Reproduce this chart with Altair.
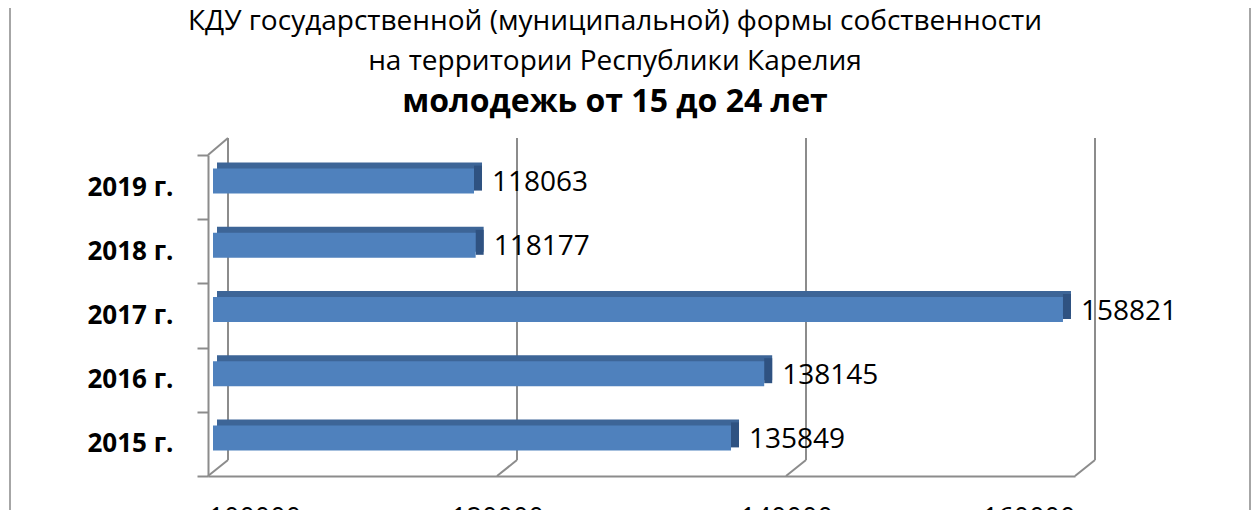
import altair as alt
import pandas as pd

# ---- data ----
years = ["2019 г.", "2018 г.", "2017 г.", "2016 г.", "2015 г."]
values = [118063, 118177, 158821, 138145, 135849]
tick_values = [100000, 120000, 140000, 160000]
x_min, x_max = 100000, 160000

title_lines = ["КДУ государственной (муниципальной) формы собственности",
               "на территории Республики Карелия",
               "молодежь от 15 до 24 лет"]

df = pd.DataFrame({"year": years, "value": values, "base": [x_min] * len(years)})
ticks_df = pd.DataFrame({"tick": tick_values})
title_df = pd.DataFrame({"line": list(range(len(title_lines))), "text": title_lines})

# ---- layout ----
W, H = 867, 321
PAD_L, PAD_T, PAD_R, PAD_B = 200, 147, 177, 34
FONT = "Open Sans"
GRID = "#8C8C8C"
FRONT = "#4F81BD"
TOP = "#3D6597"
SIDE = "#2F5281"

xs = alt.Scale(domain=[x_min, x_max], zero=False, nice=False)
ys = alt.Scale(domain=years, paddingInner=0, paddingOuter=0)

y_axis = alt.Axis(title=None, domainColor=GRID, domainWidth=2, tickColor=GRID, tickWidth=2,
                  tickSize=11, tickBand="extent", labelFont=FONT, labelFontSize=26,
                  labelFontWeight="bold", labelColor="black", labelPadding=24, grid=False)
x_axis = alt.Axis(title=None, values=tick_values, format="d", domainColor=GRID, domainWidth=2,
                  ticks=False, labelFont=FONT, labelFontSize=27, labelColor="black",
                  labelPadding=29, grid=False)

X = alt.X("value:Q", scale=xs, axis=x_axis)
Y = alt.Y("year:N", scale=ys, axis=y_axis, sort=years)

# back-wall verticals
back = alt.Chart(ticks_df).mark_rule(color=GRID, strokeWidth=2, xOffset=20, yOffset=-17,
                                     y2Offset=-16).encode(
    x=alt.X("tick:Q", scale=xs), y=alt.value(0), y2=alt.value(H))
# floor diagonals
floor = alt.Chart(ticks_df).mark_rule(color=GRID, strokeWidth=2, x2Offset=20,
                                      y2Offset=-16).encode(
    x=alt.X("tick:Q", scale=xs), x2="tick:Q", y=alt.value(H), y2=alt.value(H))
# top-left diagonal
corner = alt.Chart(ticks_df).transform_filter(alt.datum.tick == x_min).mark_rule(
    color=GRID, strokeWidth=2, x2Offset=20, y2Offset=-17).encode(
    x=alt.X("tick:Q", scale=xs), x2="tick:Q", y=alt.value(0), y2=alt.value(0))

base = alt.Chart(df)
top_face = base.mark_bar(color=TOP, size=25, xOffset=13, x2Offset=9, yOffset=-12).encode(
    x=X, x2="base:Q", y=Y)
side_face = base.mark_bar(color=SIDE, size=25, xOffset=5, x2Offset=13, yOffset=-9).encode(
    x=X, x2="value:Q", y=Y)
front_face = base.mark_bar(color=FRONT, size=25, xOffset=5, x2Offset=5, yOffset=-6).encode(
    x=X, x2="base:Q", y=Y)
labels = base.mark_text(font=FONT, fontSize=28, color="black", align="left",
                        baseline="middle", dx=23, dy=-4).encode(
    x=X, y=Y, text=alt.Text("value:Q", format="d"))


# title lines as text
def title_line(i, size, weight, y):
    return alt.Chart(title_df).transform_filter(alt.datum.line == i).mark_text(
        font=FONT, fontSize=size, fontWeight=weight, color="black", align="center",
        baseline="alphabetic").encode(x=alt.value(407), y=alt.value(y), text="text:N")


t1 = title_line(0, 28, "normal", -125)
t2 = title_line(1, 28, "normal", -85)
t3 = title_line(2, 32, "bold", -43)

# outer frame lines
frame = alt.Chart(ticks_df).transform_filter(alt.datum.tick == x_min).mark_rule(
    color="#A6A6A6", strokeWidth=2).encode(
    x=alt.value(-198), y=alt.value(-PAD_T), y2=alt.value(H + PAD_B))
frame_r = alt.Chart(ticks_df).transform_filter(alt.datum.tick == x_min).mark_rule(
    color="#A6A6A6", strokeWidth=2).encode(
    x=alt.value(W + PAD_R - 2), y=alt.value(-PAD_T), y2=alt.value(H + PAD_B))

chart = alt.layer(back, floor, corner, top_face, side_face, front_face, labels,
                  t1, t2, t3, frame, frame_r).properties(
    width=W, height=H,
    padding={"left": PAD_L, "top": PAD_T, "right": PAD_R, "bottom": PAD_B},
    autosize=alt.AutoSizeParams(type="none"),
).configure_view(stroke=None)

chart.save("out.html", embed_options={"renderer": "svg", "actions": False})
